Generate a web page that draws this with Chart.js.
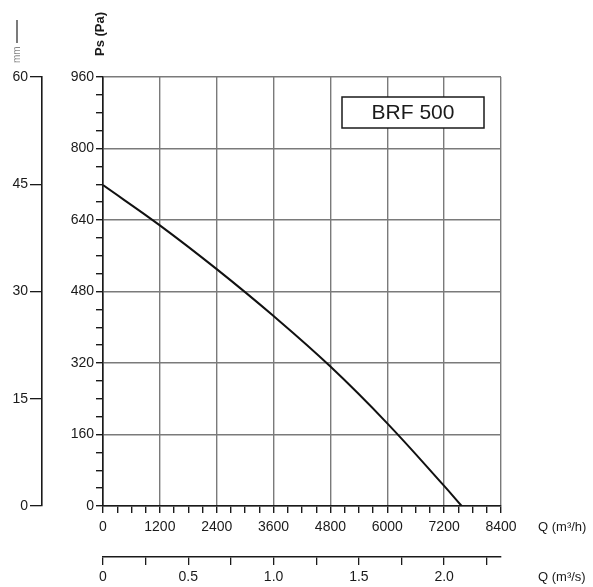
<!DOCTYPE html>
<html>
<head>
<meta charset="utf-8">
<script src="https://cdn.jsdelivr.net/npm/chart.js@4.4.1/dist/chart.umd.min.js"></script>
<style>
html, body { margin: 0; background: #fff; }
#wrap { width: 593px; height: 587px; }
</style>
</head>
<body>
<div id="wrap"><canvas id="myChart" width="593" height="587"></canvas></div>
<script>
// 風量 Q (m3/h) と静圧 Ps (Pa)
const flowQ = [0, 1200, 2400, 3600, 4800, 6000, 7200, 7570];
const pressurePs = [718, 628, 530, 425, 312, 185, 45, 0];

// 目盛りラベル
const qhLabels = [0, 1200, 2400, 3600, 4800, 6000, 7200, 8400];
const qsLabels = [0, 0.5, 1.0, 1.5, 2.0];
const psLabels = [0, 160, 320, 480, 640, 800, 960];
const mmLabels = [0, 15, 30, 45, 60];
const modelName = 'BRF 500';

const ink = '#1a1a1a';
const gridGray = '#7a7a7a';
const font = { family: 'Liberation Sans, Arial, sans-serif', size: 14 };

const has = (arr, v) => arr.some(a => Math.abs(a - v) < 1e-6);

// 軸タイトルと型式ボックス
const extras = {
    id: 'extras',
    afterDraw(chart) {
        const ctx = chart.ctx;
        const a = chart.chartArea;
        const x = chart.scales.x;
        const qs = chart.scales.qs;
        ctx.save();
        ctx.fillStyle = ink;
        ctx.font = '13px Liberation Sans, Arial, sans-serif';
        ctx.textBaseline = 'middle';
        ctx.textAlign = 'left';
        ctx.fillText('Q (m³/h)', a.right + 37, x.top + 21);
        ctx.fillText('Q (m³/s)', a.right + 37, qs.top + 20);

        // 縦書きタイトル
        ctx.save();
        ctx.translate(a.left - 3, 34);
        ctx.rotate(-Math.PI / 2);
        ctx.textAlign = 'center';
        ctx.font = 'bold 13px Liberation Sans, Arial, sans-serif';
        ctx.fillText('Ps (Pa)', 0, 0);
        ctx.restore();

        ctx.save();
        ctx.translate(17, 63);
        ctx.rotate(-Math.PI / 2);
        ctx.textAlign = 'left';
        ctx.fillStyle = '#888';
        ctx.font = '10px Liberation Sans, Arial, sans-serif';
        ctx.fillText('mm', 0, 0);
        ctx.restore();
        ctx.strokeStyle = '#333';
        ctx.lineWidth = 1.3;
        ctx.beginPath();
        ctx.moveTo(17, 20);
        ctx.lineTo(17, 43);
        ctx.stroke();

        // 型式ボックス
        const bx = a.left + 239, by = a.top + 20, bw = 142, bh = 31;
        ctx.fillStyle = '#fff';
        ctx.fillRect(bx, by, bw, bh);
        ctx.strokeStyle = ink;
        ctx.lineWidth = 1.5;
        ctx.strokeRect(bx, by, bw, bh);
        ctx.fillStyle = ink;
        ctx.textAlign = 'center';
        ctx.font = '21px Liberation Sans, Arial, sans-serif';
        ctx.fillText(modelName, bx + bw / 2, by + bh / 2 + 1);
        ctx.restore();
    }
};

const ctx = document.getElementById('myChart').getContext('2d');
new Chart(ctx, {
    type: 'line',
    data: {
        datasets: [{
            label: modelName,
            data: flowQ.map((q, i) => ({ x: q, y: pressurePs[i] })),
            borderColor: '#111',
            borderWidth: 2,
            pointRadius: 0,
            tension: 0.4,
            fill: false
        }]
    },
    options: {
        responsive: false,
        animation: false,
        layout: { padding: { top: 77, right: 92, left: 0, bottom: 0 } },
        plugins: {
            legend: { display: false },
            tooltip: { enabled: false }
        },
        scales: {
            x: {
                type: 'linear',
                position: 'bottom',
                weight: 0,
                min: 0,
                max: 8400,
                afterBuildTicks: s => {
                    const t = [];
                    for (let v = 0; v <= 8400; v += 300) t.push({ value: v });
                    s.ticks = t;
                },
                afterFit: s => { s.height = 51; },
                ticks: {
                    autoSkip: false,
                    maxRotation: 0,
                    color: ink,
                    font: font,
                    padding: 6,
                    callback: v => has(qhLabels, v) ? String(v) : ''
                },
                grid: {
                    color: c => has(qhLabels, c.tick.value) ? gridGray : 'rgba(0,0,0,0)',
                    tickColor: ink,
                    lineWidth: 1.4,
                    tickLength: 7
                },
                border: { color: ink, width: 1.6 }
            },
            qs: {
                type: 'linear',
                position: 'bottom',
                weight: 1,
                min: 0,
                max: 8400 / 3600,
                afterBuildTicks: s => {
                    const t = [];
                    for (let v = 0; v <= 2.25 + 1e-9; v += 0.25) t.push({ value: v });
                    s.ticks = t;
                },
                afterFit: s => { s.height = 30; },
                ticks: {
                    autoSkip: false,
                    maxRotation: 0,
                    color: ink,
                    font: font,
                    padding: 4,
                    callback: v => has(qsLabels, v) ? (v === 0 ? '0' : v.toFixed(1)) : ''
                },
                grid: {
                    drawOnChartArea: false,
                    color: ink,
                    lineWidth: 1.3,
                    tickLength: 8
                },
                border: { color: ink, width: 1.6 }
            },
            y: {
                type: 'linear',
                position: 'left',
                weight: 0,
                min: 0,
                max: 960,
                afterBuildTicks: s => {
                    const t = [];
                    for (let v = 0; v <= 960; v += 40) t.push({ value: v });
                    s.ticks = t;
                },
                afterFit: s => { s.width = 61; },
                ticks: {
                    autoSkip: false,
                    color: ink,
                    font: font,
                    padding: 2,
                    callback: v => has(psLabels, v) ? String(v) : ''
                },
                grid: {
                    color: c => has(psLabels, c.tick.value) ? gridGray : 'rgba(0,0,0,0)',
                    tickColor: ink,
                    lineWidth: 1.4,
                    tickLength: 7
                },
                border: { color: ink, width: 1.6 }
            },
            mm: {
                type: 'linear',
                position: 'left',
                weight: 1,
                min: 0,
                max: 60,
                afterBuildTicks: s => {
                    s.ticks = mmLabels.map(v => ({ value: v }));
                },
                afterFit: s => { s.width = 42; },
                ticks: {
                    autoSkip: false,
                    color: ink,
                    font: font,
                    padding: 2,
                    callback: v => String(v)
                },
                grid: {
                    drawOnChartArea: false,
                    color: ink,
                    lineWidth: 1.3,
                    tickLength: 12
                },
                border: { color: ink, width: 1.6 }
            }
        }
    },
    plugins: [extras]
});
</script>
</body>
</html>
